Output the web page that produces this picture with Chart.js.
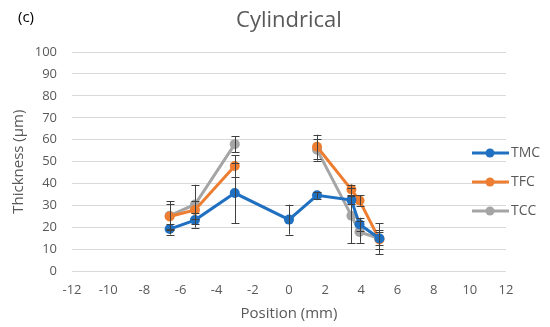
<!DOCTYPE html>
<html>
<head>
<meta charset="utf-8">
<script src="https://cdn.jsdelivr.net/npm/chart.js@4.4.0/dist/chart.umd.min.js"></script>
<style>
  html, body { margin: 0; padding: 0; background: #fff; }
  #wrap { width: 550px; height: 327px; position: relative; }
</style>
</head>
<body>
<div id="wrap"><canvas id="chart"></canvas></div>
<script>
// positions along the sample (mm)
const positions = [-6.6, -5.2, -3, 0, 1.55, 3.45, 3.9, 5];
// thickness values (um), null = no measurement
const tmc = [19.3, 23.4, 35.7, 23.6, 34.7, 32.5, 21.5, 15];
const tfc = [25, 28, 48, null, 56.8, 37.3, 32.3, 14.5];
const tcc = [25.4, 30.5, 58, null, 55.5, 25.4, 18, 15];
// error bar half heights
const tmcErr = [2.5, 3.4, 13.7, 6.8, 1.5, 2, 3, 3];
const tfcErr = [5.5, 4, 5, null, 5.5, 2.3, 2.3, 4.5];
const tccErr = [6.6, 9, 3.7, null, 5, 12.5, 5, 7];
const seriesNames = ["TMC", "TFC", "TCC"];
const xTicks = [-12, 12, 2];
const yTicks = [0, 100, 10];

const colors = ["#1f70c1", "#ed7d31", "#a5a5a5"];
const font = "'Open Sans', 'Liberation Sans', sans-serif";

const toPoints = (vals) => positions.map((p, i) => ({ x: p, y: vals[i] }));

//draw error bars with the chart's own scales
const errorBars = {
  id: "errorBars",
  afterDatasetsDraw(chart) {
    const ctx = chart.ctx;
    const xs = chart.scales.x, ys = chart.scales.y;
    const errs = [tmcErr, tfcErr, tccErr];
    ctx.save();
    ctx.strokeStyle = "#404040";
    ctx.lineWidth = 1;
    chart.data.datasets.forEach((ds, d) => {
      ds.data.forEach((pt, i) => {
        const e = errs[d][i];
        if (pt.y == null || e == null) return;
        const px = Math.round(xs.getPixelForValue(pt.x)) + 0.5;
        const top = ys.getPixelForValue(pt.y + e);
        const bot = ys.getPixelForValue(pt.y - e);
        ctx.beginPath();
        ctx.moveTo(px, top); ctx.lineTo(px, bot);
        ctx.moveTo(px - 4, Math.round(top) + 0.5); ctx.lineTo(px + 4, Math.round(top) + 0.5);
        ctx.moveTo(px - 4, Math.round(bot) + 0.5); ctx.lineTo(px + 4, Math.round(bot) + 0.5);
        ctx.stroke();
      });
    });
    ctx.restore();
  },
};

//title, panel letter and legend
const decorations = {
  id: "decorations",
  afterDraw(chart) {
    const ctx = chart.ctx;
    const area = chart.chartArea;
    ctx.save();
    ctx.fillStyle = "#000";
    ctx.font = "15px " + font;
    ctx.textBaseline = "middle";
    ctx.textAlign = "left";
    ctx.fillText("(c)", 18, 18);
    ctx.fillStyle = "#595959";
    ctx.font = "22px " + font;
    ctx.textAlign = "center";
    ctx.fillText("Cylindrical", (area.left + area.right) / 2, 21);
    ctx.font = "14px " + font;
    ctx.textAlign = "left";
    chart.data.datasets.forEach((ds, i) => {
      const y = 153 + i * 29;
      ctx.strokeStyle = ds.borderColor;
      ctx.lineWidth = 3;
      ctx.beginPath();
      ctx.moveTo(472, y); ctx.lineTo(509, y);
      ctx.stroke();
      ctx.fillStyle = ds.borderColor;
      ctx.beginPath();
      ctx.arc(490, y, 4.5, 0, Math.PI * 2);
      ctx.fill();
      ctx.fillStyle = "#595959";
      ctx.fillText(ds.label, 511, y);
    });
    ctx.restore();
  },
};

new Chart(document.getElementById("chart"), {
  type: "line",
  data: {
    datasets: [tmc, tfc, tcc].map((vals, i) => ({
      label: seriesNames[i],
      data: toPoints(vals),
      borderColor: colors[i],
      backgroundColor: colors[i],
      borderWidth: 3,
      pointRadius: 5,
      pointBorderWidth: 0,
      spanGaps: false,
    })),
  },
  options: {
    responsive: true,
    maintainAspectRatio: false,
    animation: false,
    layout: { padding: { top: 52, right: 44, bottom: 4, left: 10 } },
    plugins: {
      legend: { display: false },
      tooltip: { enabled: false },
    },
    scales: {
      x: {
        type: "linear",
        min: xTicks[0],
        max: xTicks[1],
        ticks: { stepSize: xTicks[2], color: "#595959", font: { size: 13, family: font }, padding: 3 },
        grid: { display: false },
        border: { display: false },
        title: { display: true, text: "Position (mm)", color: "#595959", font: { size: 15, family: font }, padding: { top: 4, bottom: 0 } },
      },
      y: {
        min: yTicks[0],
        max: yTicks[1],
        afterFit: (scale) => { scale.width = 62; },
        ticks: { stepSize: yTicks[2], color: "#595959", font: { size: 13, family: font }, padding: 15 },
        grid: { color: "#d9d9d9", drawTicks: false },
        border: { display: false },
        title: { display: true, text: "Thickness (µm)", color: "#595959", font: { size: 15, family: font }, padding: { top: 0, bottom: 2 } },
      },
    },
  },
  plugins: [errorBars, decorations],
});
</script>
</body>
</html>
